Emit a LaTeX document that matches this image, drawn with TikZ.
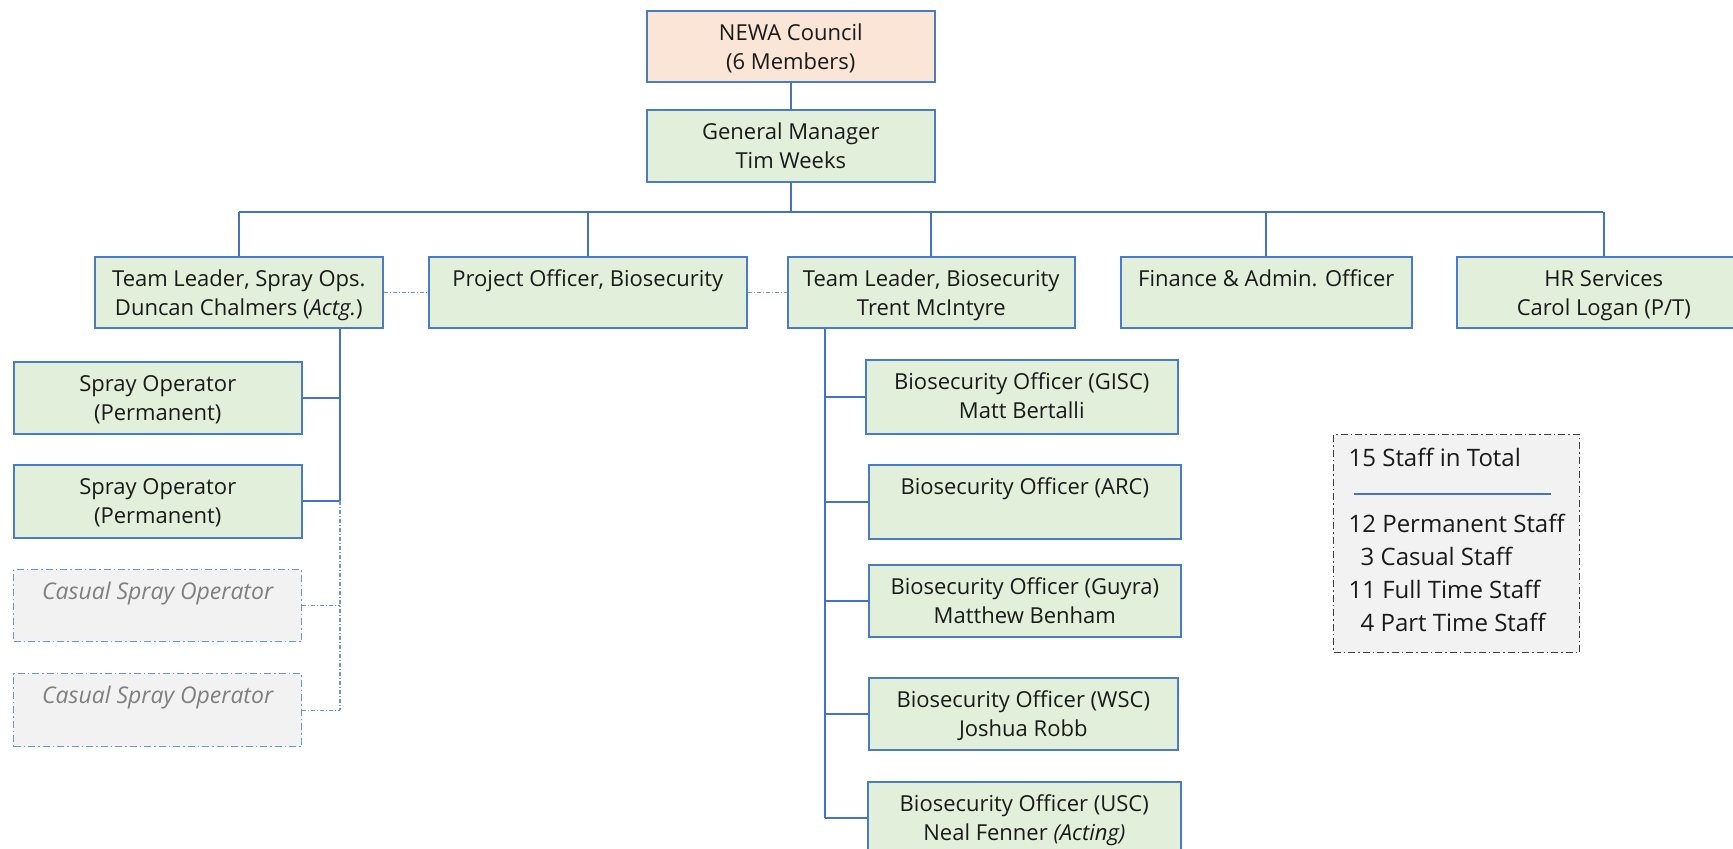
\documentclass[tikz,border=0pt]{standalone}
\usepackage{fontspec}
\setmainfont{Open Sans}
\usetikzlibrary{calc}
\definecolor{bordblue}{HTML}{4A7CC6}
\definecolor{lineblue}{HTML}{4472C4}
\definecolor{dotblue}{HTML}{6C96D6}
\definecolor{boxgreen}{HTML}{E2EFDA}
\definecolor{boxpeach}{HTML}{FBE5D6}
\definecolor{boxgray}{HTML}{F2F2F2}
\definecolor{txt}{HTML}{1A1A1A}
\definecolor{casualtxt}{HTML}{7F7F7F}
\definecolor{dashgray}{HTML}{404040}
\newcommand{\bxt}[3]{\parbox[t][#2pt][t]{#1pt}{\centering\rule{0pt}{30pt}#3}}
\begin{document}
\begin{tikzpicture}[x=1pt,y=-1pt,
  box/.style={draw=bordblue, fill=boxgreen, line width=1.6pt, inner sep=0pt,
    anchor=north west, text=txt, font=\fontsize{22pt}{28.5pt}\selectfont},
  councilbox/.style={box, fill=boxpeach},
  casualbox/.style={box, fill=boxgray, draw=dotblue, line width=1.3pt,
    dash pattern=on 7pt off 3pt on 1.5pt off 3pt, text=casualtxt,
    font=\fontsize{23pt}{28.5pt}\selectfont\itshape},
  staffbox/.style={draw=dashgray, fill=boxgray, line width=1.3pt, inner sep=0pt,
    anchor=north west, text=txt, dash pattern=on 7pt off 3pt on 1.5pt off 3pt},
  conn/.style={draw=lineblue, line width=1.7pt},
  dotconn/.style={draw=dotblue, line width=1.3pt, dash pattern=on 4pt off 2pt on 1pt off 2pt}
]
\useasboundingbox (0,0) rectangle (1733,849);

% top
\node[councilbox] (council) at (646,10) {\bxt{288}{71}{NEWA Council\\(6 Members)}};
\node[box] (gm) at (646,109) {\bxt{288}{72}{General Manager\\Tim Weeks}};

% row 1
\node[box] (tlspray) at (94,256) {\bxt{288}{71}{Team Leader, Spray Ops.\\Duncan Chalmers (\textit{Actg.})}};
\node[box] (po) at (428,256) {\bxt{318}{71}{Project Officer, Biosecurity}};
\node[box] (tlbio) at (787,256) {\bxt{287}{71}{Team Leader, Biosecurity\\Trent McIntyre}};
\node[box] (fin) at (1120,256) {\bxt{291}{71}{Finance \& Admin. Officer}};
\node[box] (hr) at (1456,256) {\bxt{294}{71}{HR Services\\Carol Logan (P/T)}};

% spray column
\node[box] (so1) at (13,361) {\bxt{288}{72}{Spray Operator\\(Permanent)}};
\node[box] (so2) at (13,464) {\bxt{288}{73}{Spray Operator\\(Permanent)}};
\node[casualbox] (cas1) at (13,569) {\bxt{288}{72}{Casual Spray Operator}};
\node[casualbox] (cas2) at (13,673) {\bxt{288}{73}{Casual Spray Operator}};

% biosecurity column
\node[box] (gisc) at (865,359) {\bxt{312}{74}{Biosecurity Officer (GISC)\\Matt Bertalli}};
\node[box] (arc) at (868,464) {\bxt{312}{74}{Biosecurity Officer (ARC)}};
\node[box] (guyra) at (868,564) {\bxt{312}{72}{Biosecurity Officer (Guyra)\\Matthew Benham}};
\node[box] (wsc) at (868,677) {\bxt{309}{72}{Biosecurity Officer (WSC)\\Joshua Robb}};
\node[box] (usc) at (867,781) {\bxt{313}{73}{Biosecurity Officer (USC)\\Neal Fenner \textit{(Acting)}}};

% staff summary
\node[staffbox] (staff) at (1333,434) {\parbox[t][218pt][t]{246pt}{\raggedright\leftskip=15pt
  \fontsize{24pt}{33pt}\selectfont\rule{0pt}{32pt}15 Staff in Total\\[33pt]
  12 Permanent Staff\\
  \hspace*{12pt}3 Casual Staff\\
  11 Full Time Staff\\
  \hspace*{12pt}4 Part Time Staff}};
\draw[conn] ($(staff.north west)+(21,60)$) -- ($(staff.north west)+(218,60)$);

% coordinates
\coordinate (busL) at (239,212);
\coordinate (busR) at (1603,212);
\coordinate (vs) at (340,0);
\coordinate (vb) at (825,0);

% top connectors
\draw[conn] (council.south) -- (gm.north);
\draw[conn] (gm.south) -- (gm.south |- busL);
\draw[conn] (busL) -- (busR);
\draw[conn] (tlspray.north |- busL) -- (tlspray.north);
\draw[conn] (po.north |- busL) -- (po.north);
\draw[conn] (tlbio.north |- busL) -- (tlbio.north);
\draw[conn] (fin.north |- busL) -- (fin.north);
\draw[conn] (hr.north |- busL) -- (hr.north);

% dotted links in row 1
\draw[dotconn] (tlspray.east) -- (po.west);
\draw[dotconn] (po.east) -- (tlbio.west);

% spray column connectors
\draw[conn] (tlspray.south -| vs) -- (so2.east -| vs);
\draw[conn] (so1.east) -- (so1.east -| vs);
\draw[conn] (so2.east) -- (so2.east -| vs);
\draw[dotconn] (so2.east -| vs) -- (cas2.east -| vs);
\draw[dotconn] (cas1.east) -- (cas1.east -| vs);
\draw[dotconn] (cas2.east) -- (cas2.east -| vs);

% biosecurity column connectors
\draw[conn] (tlbio.south -| vb) -- (usc.west -| vb);
\draw[conn] (gisc.west) -- (gisc.west -| vb);
\draw[conn] (arc.west) -- (arc.west -| vb);
\draw[conn] (guyra.west) -- (guyra.west -| vb);
\draw[conn] (wsc.west) -- (wsc.west -| vb);
\draw[conn] (usc.west) -- (usc.west -| vb);
\end{tikzpicture}
\end{document}
